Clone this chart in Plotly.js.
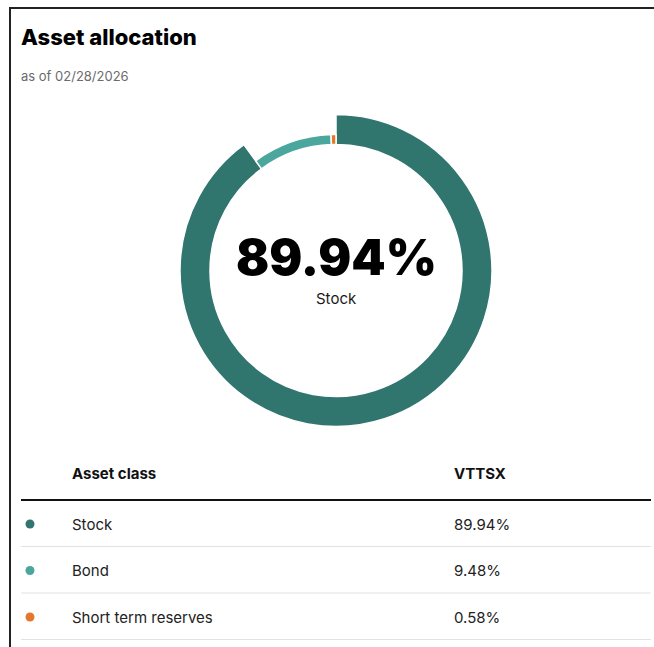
<!DOCTYPE html>
<html>
<head>
<meta charset="utf-8">
<script src="https://cdn.plot.ly/plotly-3.0.1.min.js"></script>
<style>
html,body{margin:0;padding:0;background:#fff;}
#chart{width:654px;height:647px;}
</style>
</head>
<body>
<div id="chart"></div>
<script>
// ---- data ----
const categories = ["Stock", "Bond", "Short term reserves"];
const values = [89.94, 9.48, 0.58];
const fundName = "VTTSX";
const asOfDate = "02/28/2026";
const colors = ["#31756f", "#4ba69e", "#e3772d"];

// ---- geometry (pixels) ----
const W = 654, H = 647;
const cx = 336, cy = 270.5;
const rInner = 126, rStockOuter = 156, rOtherOuter = 136;
const px = x => x / W;
const py = y => 1 - y / H;
function dom(r) {
  return { x: [px(cx - r), px(cx + r)], y: [py(cy + r), py(cy - r)] };
}

const font = "Inter, 'Open Sans', sans-serif";

const traceStock = {
  type: "pie",
  labels: categories,
  values: values,
  sort: false,
  direction: "clockwise",
  rotation: 0,
  hole: rInner / rStockOuter,
  domain: dom(rStockOuter),
  textinfo: "none",
  hoverinfo: "none",
  showlegend: false,
  marker: {
    colors: categories.map((c, i) => i === 0 ? colors[i] : "rgba(0,0,0,0)"),
    line: { color: "#ffffff", width: categories.map((c, i) => i === 0 ? 1.5 : 0) }
  }
};
const traceOther = {
  type: "pie",
  labels: categories,
  values: values,
  sort: false,
  direction: "clockwise",
  rotation: 0,
  hole: rInner / rOtherOuter,
  domain: dom(rOtherOuter),
  textinfo: "none",
  hoverinfo: "none",
  showlegend: false,
  marker: {
    colors: categories.map((c, i) => i === 0 ? "rgba(0,0,0,0)" : colors[i]),
    line: { color: "#ffffff", width: categories.map((c, i) => i === 0 ? 0 : 1.5) }
  }
};

const annotations = [];
const shapes = [];
function txt(text, x, y, size, color, weight, anchor) {
  annotations.push({
    xref: "paper", yref: "paper", x: px(x), y: py(y),
    xanchor: anchor || "left", yanchor: "middle", showarrow: false,
    borderpad: 0,
    text: text, font: { family: font, size: size, color: color, weight: weight || 400 }
  });
}

// title block
txt("Asset allocation", 20, 37, 22, "#000000", 800);
txt("as of " + asOfDate, 20, 76, 13, "#6b6b6b", 400);

// center label
txt(values[0].toFixed(2) + "%", cx, 257, 49, "#000000", 900, "center");
txt(categories[0], cx, 298, 15, "#1a1a1a", 400, "center");

// table
const colNameX = 71, colValX = 453, tableL = 21, tableR = 651;
txt("Asset class", colNameX, 473, 15, "#111111", 700);
txt(fundName, colValX, 473, 15, "#111111", 700);
shapes.push({ type: "line", xref: "paper", yref: "paper",
  x0: px(tableL), x1: px(tableR), y0: py(500), y1: py(500),
  line: { color: "#111111", width: 2 } });
const rowY0 = 524, rowH = 46.5;
categories.forEach((c, i) => {
  const y = rowY0 + i * rowH;
  shapes.push({ type: "circle", xref: "paper", yref: "paper",
    x0: px(30 - 4.5), x1: px(30 + 4.5), y0: py(y + 4.5), y1: py(y - 4.5),
    fillcolor: colors[i], line: { width: 0 } });
  txt(c, colNameX, y, 15, "#222222", 400);
  txt(values[i].toFixed(2) + "%", colValX, y, 15, "#222222", 400);
  const ly = y + 22.5;
  shapes.push({ type: "line", xref: "paper", yref: "paper",
    x0: px(tableL), x1: px(tableR), y0: py(ly), y1: py(ly),
    line: { color: "#e2e2e2", width: 1 } });
});

// card border (top + left)
shapes.push({ type: "path", xref: "paper", yref: "paper",
  path: `M ${px(10)} ${py(H + 5)} L ${px(10)} ${py(8)} L ${px(W + 5)} ${py(8)}`,
  line: { color: "#222222", width: 2 } });

const layout = {
  width: W, height: H,
  margin: { l: 0, r: 0, t: 0, b: 0 },
  paper_bgcolor: "#ffffff",
  plot_bgcolor: "#ffffff",
  showlegend: false,
  annotations: annotations,
  shapes: shapes
};

Plotly.newPlot("chart", [traceStock, traceOther], layout, { displayModeBar: false, staticPlot: true });
</script>
</body>
</html>
